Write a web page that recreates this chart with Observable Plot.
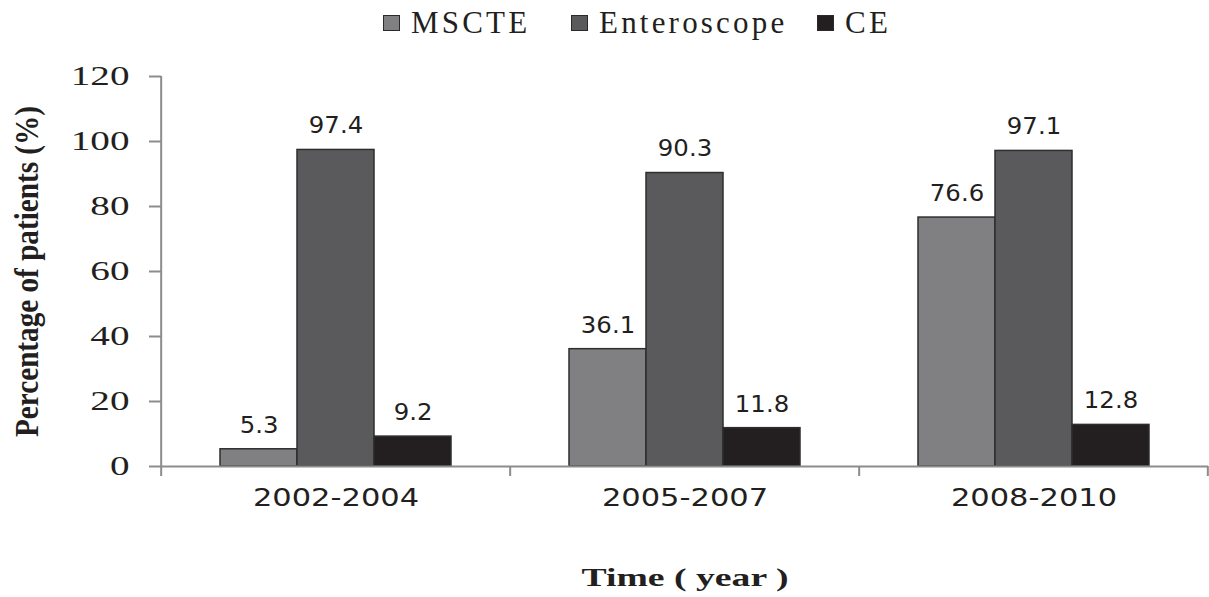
<!DOCTYPE html>
<html>
<head>
<meta charset="utf-8">
<script src="https://cdn.jsdelivr.net/npm/d3@7"></script>
<script src="https://cdn.jsdelivr.net/npm/@observablehq/plot@0.6"></script>
<style>
  body { margin: 0; background: #fff; }
  #wrap { width: 1209px; height: 597px; position: relative; overflow: hidden; }
  #legend { position: relative; width: 1209px; height: 45px; }
  .item { position: absolute; top: 0; height: 45px; display: flex; align-items: center;
          font-family: "Liberation Serif", serif; font-size: 31px; letter-spacing: 3.2px; color: #231f20; }
  .sw { width: 17px; height: 16px; border: 1.5px solid #2a2a2a; margin-right: 11px; box-sizing: border-box; }
  svg g[aria-label="y-axis tick label"] { font-family: "Liberation Serif", serif; font-size: 27px; fill: #231f20; }
  svg g[aria-label="y-axis tick"] path { stroke: #8c8c8c; stroke-width: 2px; }
  svg g[aria-label="fx-axis tick label"] { font-family: "DejaVu Sans", sans-serif; font-size: 25px; fill: #231f20; }
  svg g[aria-label="y-axis label"] { font-family: "Liberation Serif", serif; font-size: 33px; font-weight: bold; fill: #231f20; }
  svg g[aria-label="fx-axis label"] { font-family: "Liberation Serif", serif; font-size: 26px; font-weight: bold; fill: #231f20; }
</style>
</head>
<body>
<div id="wrap">
  <div id="legend"></div>
  <div id="chart"></div>
</div>
<script>
// ---- data ----
const periods = ["2002-2004", "2005-2007", "2008-2010"];
const series = ["MSCTE", "Enteroscope", "CE"];
const mscte = [5.3, 36.1, 76.6];
const enteroscope = [97.4, 90.3, 97.1];
const ce = [9.2, 11.8, 12.8];
const colors = ["#808083", "#5a5a5c", "#231f20"];
const yTicks = [0, 20, 40, 60, 80, 100, 120];
const legendLeft = [383, 571, 817];

const valuesBySeries = [mscte, enteroscope, ce];
const rows = periods.flatMap((p, i) =>
  series.map((s, j) => ({period: p, series: s, value: valuesBySeries[j][i]})));

// ---- legend ----
const legend = document.getElementById("legend");
series.forEach((s, j) => {
  const it = document.createElement("div");
  it.className = "item";
  it.style.left = legendLeft[j] + "px";
  const sw = document.createElement("span");
  sw.className = "sw";
  sw.style.background = colors[j];
  it.appendChild(sw);
  const t = document.createElement("span");
  t.textContent = s;
  it.appendChild(t);
  legend.appendChild(it);
});

// ---- chart ----
const W = 1209, H = 552, ML = 160, MR = 0, MT = 31, MB = 131;
const fw = (W - ML - MR) / periods.length;
const axisColor = "#8c8c8c";

const plot = Plot.plot({
  width: W, height: H,
  marginTop: MT, marginBottom: MB, marginLeft: ML, marginRight: MR,
  style: {background: "white", color: "#231f20", overflow: "visible"},
  fx: {domain: periods, padding: 0, axis: "bottom", tickSize: 0, tickPadding: 22,
       label: "Time ( year )", labelAnchor: "center", labelOffset: 119},
  x: {domain: series, paddingInner: 0, paddingOuter: 0.74, axis: null},
  y: {domain: [0, 120], ticks: yTicks, tickSize: 12, tickPadding: 20,
      label: "Percentage of patients (%)", labelAnchor: "center", labelOffset: 147, labelArrow: "none"},
  color: {domain: series, range: colors},
  marks: [
    Plot.barY(rows, {fx: "period", x: "series", y: "value", fill: "series",
                     stroke: "#2e2e2e", strokeWidth: 1.5}),
    Plot.ruleY([0], {stroke: axisColor, strokeWidth: 2}),
    Plot.ruleX([periods[0]], {fx: d => d, x: null, dx: -fw / 2, y1: 0, y2: 120,
                              stroke: axisColor, strokeWidth: 2}),
    Plot.ruleX(periods, {fx: d => d, x: null, dx: -fw / 2, y1: 0, y2: 0, insetTop: 10,
                         stroke: axisColor, strokeWidth: 2}),
    Plot.ruleX([periods[periods.length - 1]], {fx: d => d, x: null, dx: fw / 2 - 1, y1: 0, y2: 0, insetTop: 10,
                         stroke: axisColor, strokeWidth: 2}),
    Plot.text(rows, {fx: "period", x: "series", y: "value", text: d => d.value.toFixed(1),
                     dy: -24, lineAnchor: "middle", fontSize: 23, fontFamily: "DejaVu Sans",
                     fill: "#231f20"})
  ]
});
document.getElementById("chart").appendChild(plot);

// horizontal stretch of texts to match the reference's wide lettering
function stretch(sel, factor, fixed) {
  plot.querySelectorAll(sel).forEach(t => {
    const len = fixed || t.getComputedTextLength() * factor;
    t.setAttribute("textLength", len);
    t.setAttribute("lengthAdjust", "spacingAndGlyphs");
  });
}
stretch('g[aria-label="y-axis tick label"] text', 1.45);
stretch('g[aria-label="fx-axis tick label"] text', 1.22);
stretch('g[aria-label="text"] text', 1.06);
stretch('g[aria-label="y-axis label"] text', 1, 331);
stretch('g[aria-label="fx-axis label"] text', 1, 207);
</script>
</body>
</html>
